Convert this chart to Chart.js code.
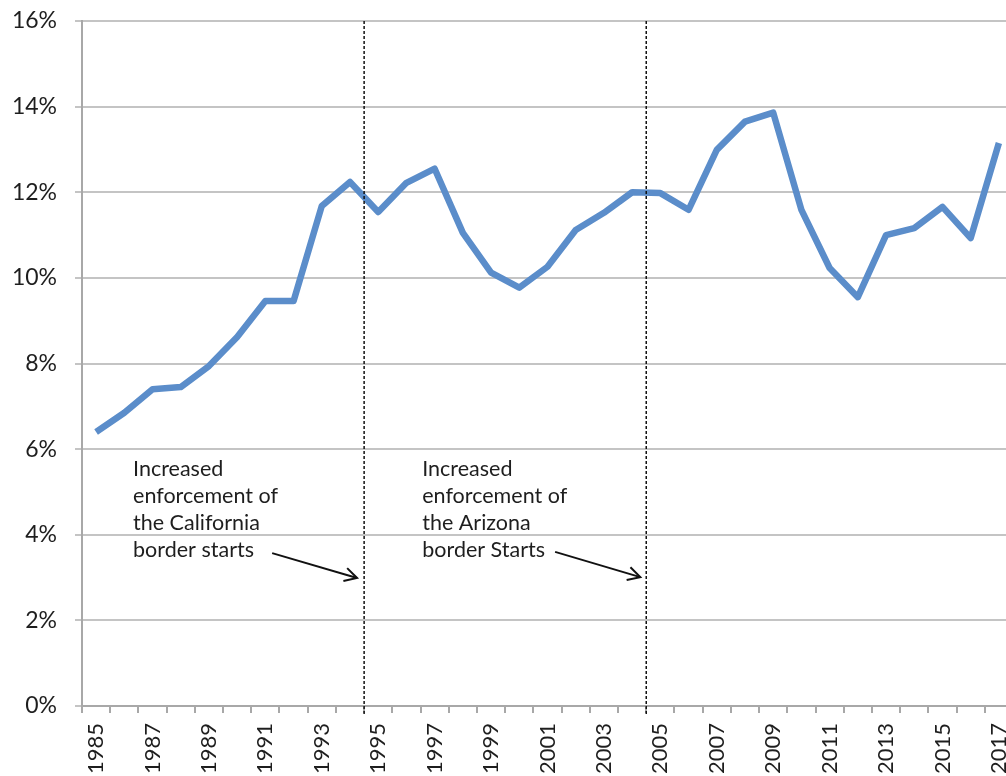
<!DOCTYPE html>
<html>
<head>
<meta charset="utf-8">
<script src="https://cdn.jsdelivr.net/npm/chart.js@4.4.0/dist/chart.umd.min.js"></script>
<style>
  html, body { margin: 0; padding: 0; background: #fff; overflow: hidden; }
  #wrap { width: 1030px; height: 776px; }
</style>
</head>
<body>
<div id="wrap"><canvas id="chart" width="1030" height="776"></canvas></div>
<script>
const years = [];
for (let y = 1985; y <= 2017; y++) years.push(String(y));

const shareValues = [
  6.40, 6.85, 7.40, 7.45, 7.94, 8.62, 9.46, 9.46, 11.68, 12.24,
  11.54, 12.22, 12.55, 11.05, 10.12, 9.77, 10.26, 11.12, 11.52, 12.00,
  11.98, 11.59, 12.99, 13.65, 13.86, 11.59, 10.23, 9.55, 11.00, 11.16,
  11.66, 10.93, 13.15
];

const yTicks = [0, 2, 4, 6, 8, 10, 12, 14, 16];

// vertical markers sit between two years (category index + 0.5)
const markerIdx = [9.5, 19.5];
const noteLines = [
  ['Increased', 'enforcement of', 'the California', 'border starts'],
  ['Increased', 'enforcement of', 'the Arizona', 'border Starts']
];
const noteAnchor = [[1.31, 5.78], [11.56, 5.78]];
const arrowFrom = [[6.24, 3.57], [16.27, 3.6]];
const arrowTo = [[9.25, 2.99], [19.29, 3.01]];

const annotPlugin = {
  id: 'annot',
  afterDatasetsDraw(chart) {
    const ctx = chart.ctx;
    const xs = chart.scales.x, ys = chart.scales.y;
    const area = chart.chartArea;
    ctx.save();
    // dashed lines
    ctx.strokeStyle = '#111';
    ctx.lineWidth = 1.5;
    ctx.setLineDash([3, 2]);
    markerIdx.forEach(function(m) {
      const x = xs.getPixelForValue(m);
      ctx.beginPath();
      ctx.moveTo(x, area.top);
      ctx.lineTo(x, area.bottom + 9);
      ctx.stroke();
    });
    ctx.setLineDash([]);
    // notes
    ctx.fillStyle = '#1e1e1e';
    ctx.font = '21.5px Lato, "Open Sans", sans-serif';
    ctx.textBaseline = 'top';
    noteLines.forEach(function(lines, i) {
      const x = xs.getPixelForValue(noteAnchor[i][0]);
      const y = ys.getPixelForValue(noteAnchor[i][1]);
      lines.forEach(function(t, j) {
        ctx.fillText(t, x, y + j * 27);
      });
    });
    // arrows
    ctx.strokeStyle = '#111';
    ctx.lineWidth = 2;
    arrowFrom.forEach(function(f, i) {
      const x1 = xs.getPixelForValue(f[0]), y1 = ys.getPixelForValue(f[1]);
      const x2 = xs.getPixelForValue(arrowTo[i][0]), y2 = ys.getPixelForValue(arrowTo[i][1]);
      ctx.beginPath();
      ctx.moveTo(x1, y1);
      ctx.lineTo(x2, y2);
      ctx.stroke();
      const a = Math.atan2(y2 - y1, x2 - x1);
      ctx.beginPath();
      ctx.moveTo(x2 - 14 * Math.cos(a - 0.5), y2 - 14 * Math.sin(a - 0.5));
      ctx.lineTo(x2, y2);
      ctx.lineTo(x2 - 14 * Math.cos(a + 0.5), y2 - 14 * Math.sin(a + 0.5));
      ctx.stroke();
    });
    ctx.restore();
  }
};

const ctx = document.getElementById('chart').getContext('2d');
new Chart(ctx, {
  type: 'line',
  data: {
    labels: years,
    datasets: [{
      data: shareValues,
      borderColor: '#5b8dca',
      borderWidth: 6.5,
      pointRadius: 0,
      tension: 0,
      borderJoinStyle: 'round'
    }]
  },
  options: {
    responsive: false,
    animation: false,
    layout: { padding: { top: 21, right: 17, left: 0, bottom: 0 } },
    plugins: { legend: { display: false }, tooltip: { enabled: false } },
    scales: {
      x: {
        type: 'category',
        offset: true,
        grid: { drawOnChartArea: false, drawTicks: true, tickLength: 7, offset: true, color: '#a8a8a8', lineWidth: 2 },
        border: { color: '#a8a8a8', width: 2 },
        ticks: {
          autoSkip: false,
          minRotation: 90,
          maxRotation: 90,
          padding: 10,
          color: '#1e1e1e',
          font: { family: 'Lato, "Open Sans", sans-serif', size: 22 },
          callback: function(v, i) { return i % 2 === 0 ? years[i] : ''; }
        },
        afterFit: function(s) { s.height = 70; s.paddingLeft = 0; s.paddingRight = 0; }
      },
      y: {
        min: 0,
        max: 16,
        afterBuildTicks: function(s) { s.ticks = yTicks.map(function(v) { return { value: v }; }); },
        grid: { color: '#c4c4c4', lineWidth: 2, tickLength: 7 },
        border: { color: '#a8a8a8', width: 2 },
        ticks: {
          padding: 18,
          color: '#1e1e1e',
          font: { family: 'Lato, "Open Sans", sans-serif', size: 23 },
          callback: function(v) { return v + '%'; }
        },
        afterFit: function(s) { s.width = 82; s.paddingTop = 0; s.paddingBottom = 0; }
      }
    }
  },
  plugins: [annotPlugin]
});
</script>
</body>
</html>
